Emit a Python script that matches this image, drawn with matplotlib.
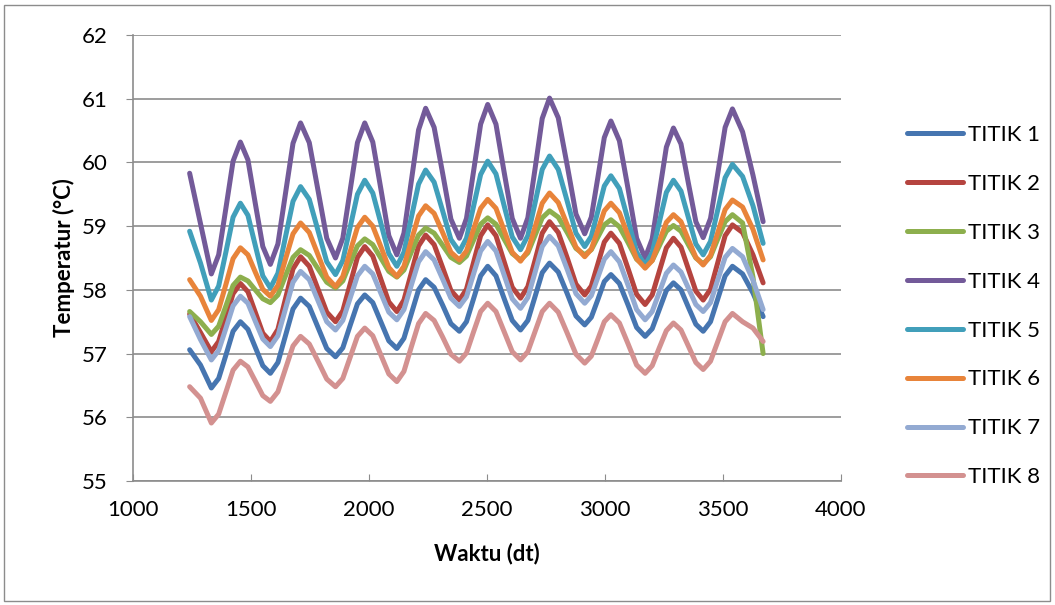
import matplotlib
matplotlib.use('Agg')
import matplotlib.pyplot as plt
from matplotlib.patches import Rectangle

plt.rcParams['font.family'] = ['Lato', 'DejaVu Sans']

# waktu (dt), shared by all series
waktu = [1240, 1286,
         1332, 1363, 1394, 1424,  1455, 1487, 1518, 1550,
         1582, 1614, 1646, 1678,  1710, 1747, 1784, 1821,
         1858, 1889, 1920, 1951,  1982, 2016, 2050, 2084,
         2118, 2148, 2179, 2210,  2240, 2276, 2312, 2347,
         2383, 2413, 2443, 2473,  2503, 2538, 2572, 2607,
         2642, 2673, 2704, 2734,  2765, 2802, 2840, 2877,
         2914, 2942, 2970, 2997,  3025, 3061, 3098, 3134,
         3170, 3200, 3230, 3260,  3290, 3322, 3353, 3385,
         3416, 3447, 3478, 3509,
         3540, 3583, 3627, 3670]

titik_1 = [57.06, 56.82,
           56.46, 56.61, 56.98, 57.35,  57.50, 57.38, 57.10, 56.81,
           56.69, 56.86, 57.28, 57.70,  57.87, 57.74, 57.41, 57.08,
           56.95, 57.09, 57.44, 57.78,  57.92, 57.80, 57.50, 57.20,
           57.08, 57.24, 57.62, 58.00,  58.16, 58.04, 57.76, 57.47,
           57.35, 57.50, 57.86, 58.22,  58.37, 58.22, 57.87, 57.52,
           57.37, 57.52, 57.90, 58.27,  58.42, 58.28, 57.94, 57.59,
           57.45, 57.57, 57.85, 58.13,  58.24, 58.10, 57.76, 57.41,
           57.27, 57.39, 57.69, 57.99,  58.11, 58.00, 57.73, 57.46,
           57.35, 57.50, 57.86, 58.22,
           58.37, 58.25, 57.95, 57.58]

titik_2 = [57.62, 57.33,
           57.03, 57.19, 57.57, 57.94,  58.10, 57.97, 57.65, 57.32,
           57.19, 57.38, 57.86, 58.33,  58.52, 58.37, 58.01, 57.65,
           57.50, 57.67, 58.09, 58.51,  58.68, 58.53, 58.17, 57.81,
           57.66, 57.84, 58.26, 58.69,  58.86, 58.71, 58.35, 57.99,
           57.84, 58.01, 58.43, 58.85,  59.02, 58.85, 58.45, 58.04,
           57.87, 58.05, 58.47, 58.89,  59.07, 58.90, 58.50, 58.09,
           57.92, 58.06, 58.41, 58.75,  58.89, 58.73, 58.33, 57.93,
           57.77, 57.92, 58.29, 58.66,  58.81, 58.67, 58.33, 57.98,
           57.84, 58.01, 58.43, 58.85,
           59.02, 58.90, 58.55, 58.11]

titik_3 = [57.66, 57.50,
           57.30, 57.43, 57.75, 58.07,  58.20, 58.14, 58.00, 57.86,
           57.80, 57.92, 58.22, 58.51,  58.63, 58.54, 58.33, 58.12,
           58.03, 58.14, 58.42, 58.69,  58.80, 58.71, 58.50, 58.29,
           58.20, 58.31, 58.59, 58.86,  58.97, 58.89, 58.70, 58.51,
           58.43, 58.53, 58.78, 59.03,  59.13, 59.03, 58.80, 58.57,
           58.47, 58.58, 58.86, 59.13,  59.24, 59.14, 58.90, 58.65,
           58.55, 58.63, 58.83, 59.02,  59.10, 58.99, 58.74, 58.48,
           58.37, 58.46, 58.69, 58.92,  59.01, 58.92, 58.71, 58.50,
           58.41, 58.52, 58.80, 59.07,
           59.18, 59.05, 58.20, 57.00]

titik_4 = [59.83, 59.04,
           58.25, 58.55, 59.29, 60.02,  60.32, 60.04, 59.36, 58.68,
           58.40, 58.72, 59.51, 60.30,  60.62, 60.31, 59.56, 58.81,
           58.50, 58.81, 59.56, 60.31,  60.62, 60.32, 59.59, 58.85,
           58.55, 58.89, 59.70, 60.51,  60.85, 60.55, 59.83, 59.11,
           58.81, 59.12, 59.86, 60.60,  60.91, 60.60, 59.86, 59.12,
           58.81, 59.13, 59.91, 60.69,  61.01, 60.70, 59.95, 59.19,
           58.88, 59.14, 59.77, 60.39,  60.65, 60.34, 59.58, 58.81,
           58.50, 58.80, 59.52, 60.24,  60.54, 60.29, 59.68, 59.07,
           58.82, 59.12, 59.83, 60.55,
           60.84, 60.48, 59.80, 59.07]

titik_5 = [58.92, 58.42,
           57.84, 58.06, 58.60, 59.14,  59.36, 59.17, 58.70, 58.22,
           58.03, 58.26, 58.83, 59.39,  59.62, 59.42, 58.93, 58.44,
           58.24, 58.46, 58.98, 59.50,  59.72, 59.52, 59.05, 58.57,
           58.37, 58.59, 59.13, 59.66,  59.88, 59.69, 59.24, 58.79,
           58.60, 58.81, 59.31, 59.81,  60.02, 59.82, 59.33, 58.83,
           58.63, 58.85, 59.37, 59.89,  60.10, 59.89, 59.39, 58.89,
           58.68, 58.84, 59.24, 59.63,  59.79, 59.59, 59.09, 58.59,
           58.39, 58.58, 59.06, 59.53,  59.72, 59.55, 59.14, 58.72,
           58.55, 58.76, 59.26, 59.76,
           59.97, 59.78, 59.32, 58.73]

titik_6 = [58.16, 57.90,
           57.52, 57.69, 58.09, 58.49,  58.66, 58.55, 58.28, 58.01,
           57.90, 58.07, 58.48, 58.88,  59.05, 58.90, 58.55, 58.20,
           58.05, 58.21, 58.60, 58.98,  59.14, 59.00, 58.68, 58.35,
           58.21, 58.37, 58.77, 59.16,  59.32, 59.20, 58.90, 58.59,
           58.47, 58.61, 58.95, 59.28,  59.42, 59.28, 58.94, 58.59,
           58.45, 58.61, 58.99, 59.36,  59.52, 59.37, 59.02, 58.67,
           58.52, 58.64, 58.94, 59.24,  59.36, 59.21, 58.85, 58.49,
           58.34, 58.46, 58.76, 59.06,  59.18, 59.07, 58.79, 58.51,
           58.39, 58.54, 58.90, 59.26,
           59.41, 59.30, 58.95, 58.47]

titik_7 = [57.58, 57.22,
           56.90, 57.05, 57.40, 57.75,  57.90, 57.79, 57.51, 57.23,
           57.11, 57.28, 57.70, 58.12,  58.29, 58.16, 57.83, 57.50,
           57.37, 57.52, 57.87, 58.22,  58.37, 58.25, 57.95, 57.65,
           57.53, 57.69, 58.07, 58.44,  58.60, 58.47, 58.17, 57.87,
           57.74, 57.89, 58.25, 58.61,  58.76, 58.61, 58.24, 57.86,
           57.71, 57.88, 58.28, 58.68,  58.84, 58.69, 58.32, 57.94,
           57.79, 57.91, 58.20, 58.48,  58.60, 58.44, 58.07, 57.69,
           57.53, 57.66, 57.96, 58.26,  58.39, 58.28, 58.03, 57.77,
           57.66, 57.80, 58.16, 58.51,
           58.65, 58.52, 58.15, 57.69]

titik_8 = [56.48, 56.30,
           55.91, 56.05, 56.40, 56.74,  56.88, 56.79, 56.57, 56.34,
           56.25, 56.40, 56.76, 57.12,  57.27, 57.15, 56.88, 56.60,
           56.48, 56.61, 56.94, 57.27,  57.40, 57.28, 56.98, 56.68,
           56.56, 56.72, 57.10, 57.47,  57.63, 57.52, 57.26, 56.99,
           56.88, 57.01, 57.34, 57.66,  57.79, 57.66, 57.35, 57.03,
           56.90, 57.03, 57.35, 57.66,  57.79, 57.65, 57.32, 56.99,
           56.85, 56.96, 57.23, 57.50,  57.61, 57.48, 57.15, 56.82,
           56.69, 56.81, 57.09, 57.36,  57.48, 57.37, 57.12, 56.86,
           56.75, 56.88, 57.19, 57.50,
           57.63, 57.50, 57.40, 57.19]

series = [titik_1, titik_2, titik_3, titik_4, titik_5, titik_6, titik_7, titik_8]
labels = ['TITIK 1', 'TITIK 2', 'TITIK 3', 'TITIK 4',
          'TITIK 5', 'TITIK 6', 'TITIK 7', 'TITIK 8']
colors = ['#4675B0', '#B5443F', '#8DAF4D', '#735A99',
          '#419FBA', '#E8843A', '#93AAD2', '#D39190']

fig = plt.figure(figsize=(10.55, 6.05), dpi=100)
ax = fig.add_axes([133/1055, 1 - 481/605, 708/1055, 446/605])

for vals, lab, c in zip(series, labels, colors):
    ax.plot(waktu, vals, color=c, lw=3.6, label=lab,
            solid_capstyle='round', solid_joinstyle='round')

ax.set_xlim(1000, 4000)
ax.set_ylim(55, 62)
ax.set_xticks(range(1000, 4001, 500))
ax.set_yticks(range(55, 63))
ax.grid(axis='y', color='#8C8C8C', lw=1.2)
ax.set_axisbelow(True)
for s in ['top', 'right']:
    ax.spines[s].set_visible(False)
for s in ['left', 'bottom']:
    ax.spines[s].set_color('#8C8C8C')
    ax.spines[s].set_linewidth(1.2)
ax.tick_params(axis='x', direction='in', length=5, color='#8C8C8C',
               labelsize=16, pad=14)
ax.tick_params(axis='y', direction='out', length=5, color='#8C8C8C',
               labelsize=16, pad=13)

ax.set_xlabel('Waktu (dt)', fontsize=16, fontweight='bold', labelpad=16)
ax.set_ylabel('Temperatur (°C)', fontsize=16, fontweight='bold', labelpad=5)

ax.legend(loc='upper left', bbox_to_anchor=(907/1055, 1 - 125/605),
          bbox_transform=fig.transFigure, frameon=False, fontsize=16,
          handlelength=2.5, handletextpad=0.25, labelspacing=1.3,
          borderpad=0, borderaxespad=0)

fig.patches.append(Rectangle((4/1055, 4/605), 1046/1055, 596/605,
                             transform=fig.transFigure, fill=False,
                             edgecolor='#8C8C8C', lw=1))

fig.savefig('out.png', dpi=100)
